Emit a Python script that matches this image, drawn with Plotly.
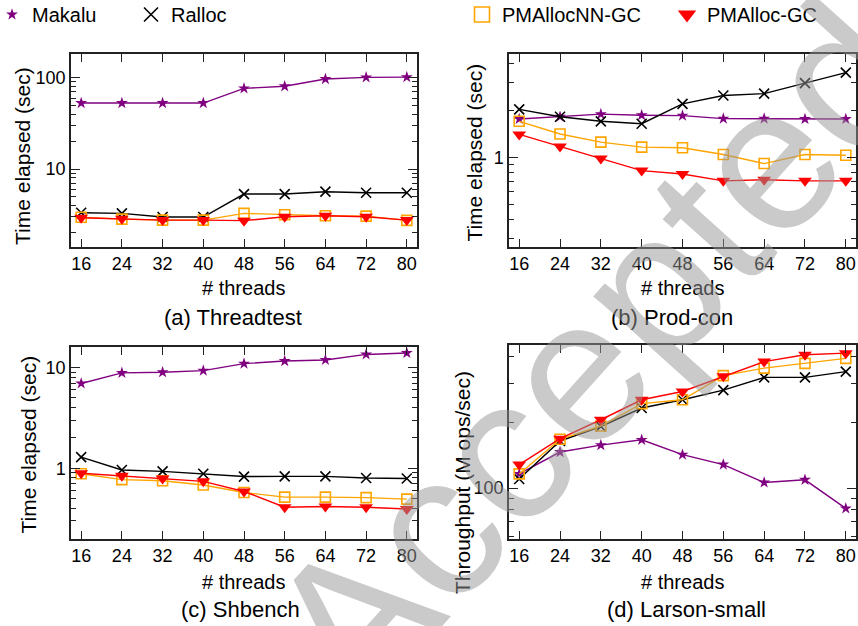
import plotly.graph_objects as go
import math

threads = [16, 24, 32, 40, 48, 56, 64, 72, 80]
series_names = ["Makalu", "Ralloc", "PMAllocNN-GC", "PMAlloc-GC"]

# (a) Threadtest - time elapsed (sec)
a_makalu = [52.8, 52.8, 52.8, 52.8, 76.5, 80.6, 96.8, 100.9, 101.5]
a_ralloc = [3.32, 3.27, 2.98, 2.98, 5.32, 5.32, 5.65, 5.5, 5.5]
a_nn = [2.96, 2.83, 2.76, 2.76, 3.27, 3.16, 3.08, 3.05, 2.74]
a_gc = [2.93, 2.85, 2.76, 2.76, 2.72, 3.0, 3.08, 3.0, 2.76]

# (b) Prod-con - time elapsed (sec)
b_makalu = [1.76, 1.82, 1.89, 1.86, 1.85, 1.77, 1.77, 1.76, 1.76]
b_ralloc = [2.03, 1.82, 1.70, 1.64, 2.2, 2.49, 2.56, 2.99, 3.49]
b_nn = [1.70, 1.41, 1.25, 1.16, 1.15, 1.04, 0.91, 1.04, 1.03]
b_gc = [1.40, 1.17, 0.98, 0.82, 0.78, 0.705, 0.716, 0.705, 0.705]

# (c) Shbench - time elapsed (sec)
c_makalu = [6.95, 8.85, 8.98, 9.33, 10.95, 11.6, 11.9, 13.5, 13.95]
c_ralloc = [1.29, 0.96, 0.93, 0.88, 0.826, 0.83, 0.83, 0.80, 0.79]
c_nn = [0.88, 0.77, 0.75, 0.68, 0.574, 0.516, 0.516, 0.51, 0.493]
c_gc = [0.89, 0.84, 0.79, 0.74, 0.587, 0.41, 0.417, 0.41, 0.393]

# (d) Larson-small - throughput (M ops/sec)
d_makalu = [116, 146, 157, 166, 142, 128, 106, 109, 80.7]
d_ralloc = [110, 164, 191, 232, 253, 280, 320, 320, 340]
d_nn = [116, 167, 192, 243, 253, 326, 353, 371, 391]
d_gc = [128, 168, 205, 253, 276, 324, 378, 406, 413]

panels = [
    dict(data=[a_makalu, a_ralloc, a_nn, a_gc], yr=[1.4, 182], ytitle="Time elapsed (sec)",
         caption="(a) Threadtest"),
    dict(data=[b_makalu, b_ralloc, b_nn, b_gc], yr=[0.265, 4.6], ytitle="Time elapsed (sec)",
         caption="(b) Prod-con"),
    dict(data=[c_makalu, c_ralloc, c_nn, c_gc], yr=[0.198, 16.0], ytitle="Time elapsed (sec)",
         caption="(c) Shbench"),
    dict(data=[d_makalu, d_ralloc, d_nn, d_gc], yr=[58.5, 450], ytitle="Throughput (M ops/sec)",
         caption="(d) Larson-small"),
]

W, H = 858, 626
FONT = "Liberation Sans, Arial, Helvetica, sans-serif"

# plot boxes in pixels (left, right, top, bottom)
boxes = [(71, 417, 54, 247), (509, 856, 54, 247), (71, 417, 347, 539), (509, 856, 345, 539)]
ytitle_pos = [(22.5, 156.5), (475, 152.6), (27.5, 445), (462, 483)]
xtitle_pos = [(244, 288), (682, 288), (244, 582), (682, 582)]
caption_pos = [(233, 317), (672, 317), (241, 609), (686, 609)]

styles = [
    dict(color="#800080", symbol="star", size=9, lw=0),
    dict(color="black", symbol="x-thin", size=10, lw=1.6),
    dict(color="#FFA500", symbol="square-open", size=10, lw=1.6),
    dict(color="#FF0000", symbol="triangle-down", size=12, lw=0),
]

fig = go.Figure()
for i, p in enumerate(panels):
    xa = "x" if i == 0 else f"x{i+1}"
    ya = "y" if i == 0 else f"y{i+1}"
    for s, vals, st in zip(series_names, p["data"], styles):
        fig.add_trace(go.Scatter(
            x=threads, y=vals, xaxis=xa, yaxis=ya, mode="lines+markers", name=s,
            showlegend=False,
            line=dict(color=st["color"], width=1.4),
            marker=dict(symbol=st["symbol"], size=st["size"], color=st["color"],
                        line=dict(color=st["color"], width=st["lw"])),
        ))

# legend-only entries
leg_sizes = [9, 14, 15, 17]
for k, (s, st) in enumerate(zip(series_names, styles)):
    fig.add_trace(go.Scatter(
        x=[None], y=[None], mode="markers", name=s,
        legend="legend" if k < 2 else "legend2",
        marker=dict(symbol=st["symbol"], size=leg_sizes[k], color=st["color"],
                    line=dict(color=st["color"], width=st["lw"])),
    ))

layout = dict(
    width=W, height=H, margin=dict(l=0, r=0, t=0, b=0, autoexpand=False),
    paper_bgcolor="white", plot_bgcolor="white",
    font=dict(family=FONT, size=18, color="black"),
    legend=dict(orientation="h", x=-8 / W, y=1.008, xanchor="left", yanchor="top",
                entrywidth=94, font=dict(size=20), bgcolor="rgba(0,0,0,0)"),
    legend2=dict(orientation="h", x=462 / W, y=1.008, xanchor="left", yanchor="top",
                 entrywidth=160, font=dict(size=20), bgcolor="rgba(0,0,0,0)"),
)

annotations = []
for i, p in enumerate(panels):
    l, r, t, b = boxes[i]
    xk = "xaxis" if i == 0 else f"xaxis{i+1}"
    yk = "yaxis" if i == 0 else f"yaxis{i+1}"
    ya = "y" if i == 0 else f"y{i+1}"
    xa = "x" if i == 0 else f"x{i+1}"
    layout[xk] = dict(
        domain=[l / W, r / W], anchor=ya, range=[14, 82],
        tickvals=threads, ticks="inside", ticklen=8, tickwidth=1.2, tickcolor="#222",
        showline=True, linecolor="#222", linewidth=1.5, mirror="ticks",
        showgrid=False, zeroline=False, tickfont=dict(size=18, family=FONT),
    )
    layout[yk] = dict(
        domain=[1 - b / H, 1 - t / H], anchor=xa, type="log",
        range=[math.log10(p["yr"][0]), math.log10(p["yr"][1])],
        dtick=1, ticks="inside", ticklen=9, tickwidth=1.2, tickcolor="#222",
        showline=True, linecolor="#222", linewidth=1.5, mirror="ticks",
        showgrid=False, zeroline=False, tickfont=dict(size=18, family=FONT),
        minor=dict(ticks="inside", ticklen=5, tickwidth=1.1, tickcolor="#222",
                   dtick="D1", showgrid=False),
    )
    annotations.append(dict(text=p["ytitle"], x=ytitle_pos[i][0] / W, y=1 - ytitle_pos[i][1] / H,
                            xref="paper", yref="paper", showarrow=False, textangle=-90,
                            font=dict(size=21, family=FONT), xanchor="center", yanchor="middle"))
    annotations.append(dict(text="# threads", x=xtitle_pos[i][0] / W, y=1 - xtitle_pos[i][1] / H,
                            xref="paper", yref="paper", showarrow=False,
                            font=dict(size=20, family=FONT), xanchor="center", yanchor="middle"))
    annotations.append(dict(text=p["caption"], x=caption_pos[i][0] / W, y=1 - caption_pos[i][1] / H,
                            xref="paper", yref="paper", showarrow=False,
                            font=dict(size=22, family=FONT), xanchor="center", yanchor="middle"))

# watermark
annotations.append(dict(text="Accepted", x=592 / W, y=1 - 352 / H, xref="paper", yref="paper",
                        showarrow=False, textangle=-48,
                        font=dict(size=205, family=FONT, color="rgba(150,150,150,0.5)"),
                        xanchor="center", yanchor="middle"))
layout["annotations"] = annotations

fig.update_layout(**layout)
fig.write_html("out.html")
